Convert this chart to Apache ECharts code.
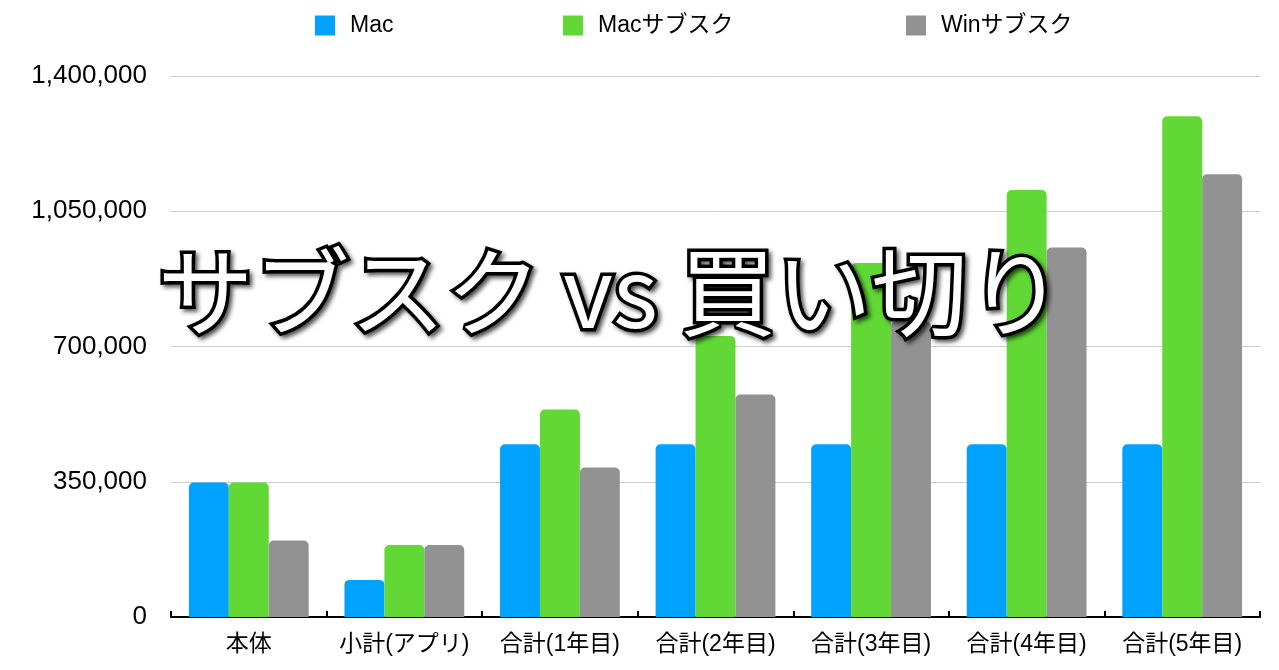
<!DOCTYPE html>
<html>
<head>
<meta charset="utf-8">
<script src="https://cdn.jsdelivr.net/npm/echarts@6/dist/echarts.min.js"></script>
<style>
    html, body { margin: 0; padding: 0; background: #fff; }
    #main { width: 1279px; height: 670px; }
</style>
</head>
<body>
<div id="main"></div>
<script>
// データ
const categorias = ['本体', '小計(アプリ)', '合計(1年目)', '合計(2年目)', '合計(3年目)', '合計(4年目)', '合計(5年目)'];
const serieMac = [348000, 96000, 447000, 447000, 447000, 447000, 447000];
const serieMacSub = [348000, 186000, 537000, 727000, 916000, 1105000, 1296000];
const serieWinSub = [198000, 186000, 387000, 576000, 765000, 956000, 1146000];
const nombres = ['Mac', 'Macサブスク', 'Winサブスク'];
const colores = ['#00A2FF', '#61D836', '#929292'];
const ejeMin = 0, ejeMax = 1400000, ejeIntervalo = 350000;

const fuente = '"Liberation Sans", "Noto Sans CJK JP", sans-serif';

/* ============================
   LEYENDA (una por serie para fijar posición)
============================ */
const posLeyenda = [310, 558, 901];
const leyendas = nombres.map((n, i) => ({
    data: [n],
    left: posLeyenda[i],
    top: 9,
    itemWidth: 20,
    itemHeight: 20,
    icon: 'rect',
    textStyle: { fontFamily: fuente, fontSize: 23, color: '#000', padding: [0, 0, 0, 10] }
}));

function serie(nombre, datos, color) {
    return {
        name: nombre,
        type: 'bar',
        data: datos,
        barGap: '0%',
        barCategoryGap: '23%',
        itemStyle: { color: color, borderRadius: [5, 5, 0, 0] }
    };
}

const chart = echarts.init(document.getElementById('main'));

const option = {
    backgroundColor: '#fff',
    animation: false,
    color: colores,
    legend: leyendas,
    grid: { left: 171, right: 19, top: 76, bottom: 53, containLabel: false },
    xAxis: {
        type: 'category',
        data: categorias,
        axisLine: { lineStyle: { color: '#000', width: 2 } },
        axisTick: { show: true, interval: 0, inside: true, length: 6, lineStyle: { color: '#000', width: 2 } },
        axisLabel: { interval: 0, fontFamily: fuente, fontSize: 23, color: '#000', margin: 16 }
    },
    yAxis: {
        type: 'value',
        min: ejeMin,
        max: ejeMax,
        interval: ejeIntervalo,
        axisLine: { show: false },
        axisTick: { show: false },
        splitLine: { lineStyle: { color: '#cccccc', width: 1 } },
        axisLabel: {
            fontFamily: fuente, fontSize: 26, color: '#000', margin: 24,
            formatter: v => v.toLocaleString('en-US')
        }
    },
    series: [
        serie(nombres[0], serieMac, colores[0]),
        serie(nombres[1], serieMacSub, colores[1]),
        serie(nombres[2], serieWinSub, colores[2])
    ],
    // título superpuesto
    graphic: [{
        type: 'text',
        left: 154,
        top: 240,
        z: 100,
        style: {
            text: 'サブスク vs 買い切り',
            fontFamily: '"Noto Sans CJK JP", sans-serif',
            fontSize: 96,
            fontWeight: 'normal',
            fill: '#fff',
            stroke: '#000',
            lineWidth: 7,
            textShadowColor: 'rgba(0,0,0,0.55)',
            textShadowBlur: 4,
            textShadowOffsetX: 3,
            textShadowOffsetY: 3
        }
    }]
};

chart.setOption(option);
window.addEventListener('resize', () => chart.resize());
</script>
</body>
</html>
